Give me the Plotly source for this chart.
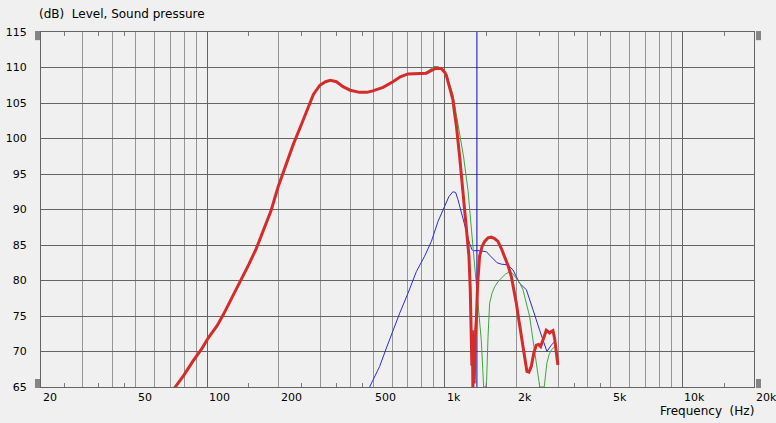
import math
import plotly.graph_objects as go

# ---------------- data ----------------
red_freq = [72, 80, 87, 95, 101, 110, 117, 127, 137, 150, 161, 175, 186, 199, 215, 230, 248, 266, 280,
            298, 315, 330, 350, 373, 400, 438, 470, 498, 550, 605, 650, 700, 760, 836, 880, 921, 966,
            1000, 1015, 1050, 1081, 1100, 1119, 1155, 1193, 1232, 1264, 1280, 1290, 1300, 1306, 1313,
            1322, 1330, 1342, 1358, 1375, 1401, 1435, 1471, 1520, 1570, 1620, 1673, 1730, 1786, 1850,
            1907, 1950, 2000, 2050, 2100, 2160, 2216, 2260, 2312, 2370, 2427, 2480, 2530, 2600, 2673,
            2720, 2760, 2800, 2851, 2900, 2944, 2992]
red_level = [64.6, 66.7, 68.6, 70.4, 71.9, 73.6, 75.2, 77.5, 79.8, 82.3, 84.5, 87.6, 89.9, 93.2, 96.5,
             99.1, 101.8, 104.2, 106.2, 107.5, 108.0, 108.2, 108.0, 107.3, 106.8, 106.5, 106.5, 106.7,
             107.2, 108.0, 108.7, 109.1, 109.15, 109.2, 109.6, 109.9, 109.85, 109.3, 108.9, 107.0,
             105.5, 103.5, 101.8, 97.4, 92.7, 88.0, 83.4, 78.7, 74.0, 68.0, 73.0, 64.5, 71.0, 65.5,
             72.0, 74.5, 79.6, 83.4, 84.8, 85.5, 86.0, 86.1, 85.9, 85.5, 84.5, 83.4, 82.0, 80.5, 79.0,
             76.8, 74.4, 72.1, 69.4, 67.2, 67.1, 67.9, 69.8, 70.9, 71.0, 70.7, 71.8, 73.0, 72.8, 72.6,
             72.8, 72.95, 71.8, 70.2, 68.1]

green_freq = [800, 850, 900, 940, 980, 1020, 1050, 1081, 1110, 1136, 1170, 1200, 1252, 1290, 1327, 1358,
              1391, 1424, 1445, 1457, 1490, 1500, 1520, 1544, 1580, 1621, 1680, 1729, 1800, 1875, 1940,
              2000, 2070, 2133, 2200, 2276, 2330, 2388, 2440, 2490, 2510, 2620, 2650, 2690, 2750, 2807,
              2900]
green_level = [109.0, 109.5, 110.15, 110.1, 109.6, 108.6, 107.5, 106.3, 104.0, 102.1, 99.5, 97.4, 92.7,
               88.05, 83.4, 79.6, 76.3, 71.6, 67.5, 65.0, 65.0, 66.0, 72.0, 76.8, 78.2, 79.1, 79.9, 80.3,
               80.9, 81.25, 80.9, 80.3, 79.6, 78.7, 77.0, 74.9, 72.5, 69.8, 67.5, 65.3, 65.0, 65.0, 66.5,
               68.4, 69.6, 70.2, 70.7]

blue_freq = [470, 532, 568, 605, 646, 700, 759, 822, 878, 936, 1000, 1040, 1081, 1111, 1136, 1170, 1208,
             1240, 1272, 1300, 1313, 1401, 1498, 1540, 1595, 1660, 1729, 1844, 1936, 2000, 2065, 2204,
             2280, 2350, 2506, 2600, 2690, 2807, 2900]
blue_level = [64.2, 67.9, 70.5, 73.05, 75.4, 78.2, 81.25, 83.4, 85.5, 88.3, 90.6, 91.8, 92.5, 92.4, 91.4,
              89.8, 88.0, 86.5, 85.2, 84.4, 84.2, 84.2, 84.05, 83.6, 83.1, 82.5, 82.3, 82.2, 81.5, 80.6,
              79.6, 78.7, 77.3, 75.9, 73.0, 71.5, 70.0, 70.9, 71.4]

cursor_freq = 1365

x_tick_vals = [20, 50, 100, 200, 500, 1000, 2000, 5000, 10000, 20000]
x_tick_labels = ["20", "50", "100", "200", "500", "1k", "2k", "5k", "10k", "20k"]
x_grid_minor = [30, 40, 50, 60, 70, 80, 90, 200, 300, 400, 500, 600, 700, 800, 900,
                2000, 3000, 4000, 5000, 6000, 7000, 8000, 9000]
x_grid_major = [100, 1000, 10000]
x_small_ticks = [25, 35, 45, 150, 250, 350, 450, 1500, 2500, 3500, 4500, 15000]
y_tick_vals = [65, 70, 75, 80, 85, 90, 95, 100, 105, 110, 115]

y_title = "(dB)\u00a0\u00a0Level, Sound pressure"
x_title = "Frequency\u00a0\u00a0(Hz)"

# ---------------- figure ----------------
FONT = "DejaVu Sans"
BG = "#f0f0f0"
xr = [math.log10(20), math.log10(20000)]

fig = go.Figure()
fig.add_trace(go.Scatter(x=[], y=[], xaxis="x2", showlegend=False, hoverinfo="skip"))
fig.add_trace(go.Scatter(x=[], y=[], xaxis="x3", showlegend=False, hoverinfo="skip"))
fig.add_trace(go.Scatter(x=blue_freq, y=blue_level, mode="lines",
                         line=dict(color="#2a2ae0", width=1), showlegend=False))
fig.add_trace(go.Scatter(x=green_freq, y=green_level, mode="lines",
                         line=dict(color="#3fa63f", width=1), showlegend=False))
fig.add_trace(go.Scatter(x=[cursor_freq, cursor_freq], y=[y_tick_vals[0], y_tick_vals[-1]],
                         mode="lines", line=dict(color="#0a0ab4", width=1), showlegend=False))
fig.add_trace(go.Scatter(x=red_freq, y=red_level, mode="lines",
                         line=dict(color="#d42b2b", width=3), showlegend=False))

axis_common = dict(type="log", range=xr, showticklabels=False, zeroline=False, automargin=False)
fig.update_layout(
    width=776, height=423,
    margin=dict(l=41, r=22, t=32, b=36, autoexpand=False),
    paper_bgcolor=BG, plot_bgcolor=BG,
    font=dict(family=FONT, size=11, color="#000000"),
    xaxis=dict(**axis_common, tickvals=x_grid_minor, ticks="", showgrid=True,
               gridcolor="#959595", gridwidth=1, showline=True, linecolor="#646464",
               linewidth=1, mirror=True),
    xaxis2=dict(**axis_common, overlaying="x", tickvals=x_grid_major, ticks="",
                showgrid=True, gridcolor="#646464", gridwidth=1, showline=False),
    xaxis3=dict(**axis_common, overlaying="x", tickvals=x_small_ticks, ticks="inside",
                ticklen=4, tickcolor="#7a7a7a", tickwidth=1, showgrid=False,
                showline=True, linecolor="#646464", mirror="ticks"),
    yaxis=dict(range=[65, 115], tickvals=y_tick_vals, ticks="", showgrid=True,
               gridcolor="#646464", gridwidth=1, zeroline=False, showline=True,
               linecolor="#646464", mirror=True, ticklabelstandoff=11, automargin=False,
               tickfont=dict(family=FONT, size=11, color="#000000")),
)

for v, lab in zip(x_tick_vals, x_tick_labels):
    fig.add_annotation(x=math.log10(v), y=0, xref="x", yref="paper", text=lab,
                       showarrow=False, xanchor="left", yanchor="top", yshift=-2,
                       font=dict(family=FONT, size=11, color="#000000"))

fig.add_annotation(x=0, y=1, xref="paper", yref="paper", text=y_title, showarrow=False,
                   xanchor="left", yanchor="bottom", xshift=-4, yshift=9,
                   font=dict(family=FONT, size=12, color="#000000"))
fig.add_annotation(x=1, y=0, xref="paper", yref="paper", text=x_title, showarrow=False,
                   xanchor="right", yanchor="top", xshift=2, yshift=-15,
                   font=dict(family=FONT, size=12, color="#000000"))

# small grey markers at the plot corners
for x0, x1 in [(-0.0084, -0.0014), (1.0028, 1.0098)]:
    for y0, y1 in [(0.977, 1.0028), (-0.0028, 0.0225)]:
        fig.add_shape(type="rect", xref="paper", yref="paper", x0=x0, x1=x1, y0=y0, y1=y1,
                      fillcolor="#858585", line=dict(width=0))

fig.write_html("out.html", config={"displayModeBar": False},
               post_script="document.body.style.margin='0';")
